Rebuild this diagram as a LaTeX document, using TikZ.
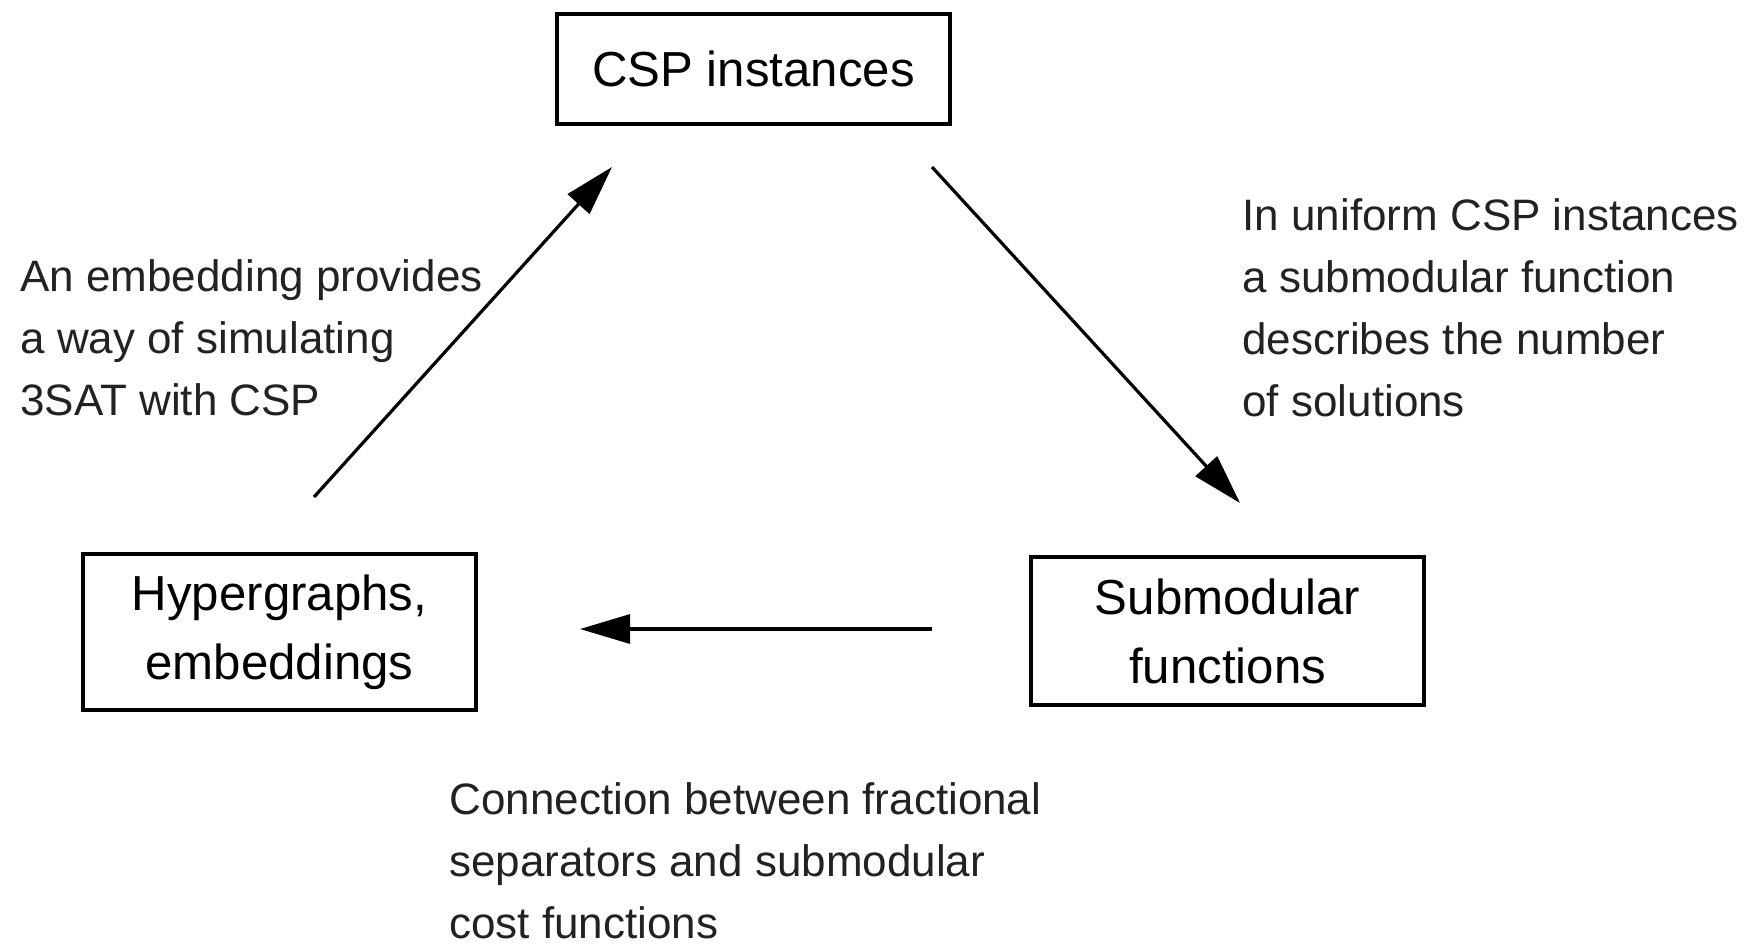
\documentclass[tikz,border=0pt]{standalone}
\usepackage{fontspec}
\setmainfont{Liberation Sans}
\usetikzlibrary{arrows.meta}
\definecolor{labelgray}{HTML}{222222}
\begin{document}
\begin{tikzpicture}[x=0.5pt,y=-0.5pt,
  box/.style={draw, line width=2pt, minimum width=196.5pt, inner sep=0pt, align=center,
    font=\fontsize{24.6}{34.6}\selectfont},
  lbl/.style={anchor=base west, align=left, inner sep=0pt, text=labelgray,
    font=\fontsize{22}{31}\selectfont},
  conn/.style={line width=1.6pt, -{Triangle[length=25pt,width=14.5pt]}}]
\useasboundingbox (0,0) rectangle (1759,944);

\node[box, minimum height=55pt] (csp) at (753.5,69) {CSP instances};
\node[box, minimum height=78pt] (hyp) at (279.5,632) {Hypergraphs,\\embeddings};
\node[box, minimum height=74pt] (sub) at (1227.5,631) {Submodular\\functions};

\coordinate (a1s) at (314,497);
\coordinate (a1e) at (612,167);
\coordinate (a2s) at (932,167);
\coordinate (a2e) at (1240,503);
\coordinate (a3s) at (932,629);
\coordinate (a3e) at (580,629);

\draw[conn] (a1s) -- (a1e);
\draw[conn] (a2s) -- (a2e);
\draw[conn] (a3s) -- (a3e);

\node[lbl] (lab1) at (20,415.5) {An embedding provides\\a way of simulating\\3SAT with CSP};
\node[lbl] (lab2) at (1242,416) {In uniform CSP instances\\a submodular function\\describes the number\\of solutions};
\node[lbl] (lab3) at (449,938) {Connection between fractional\\separators and submodular\\cost functions};
\end{tikzpicture}
\end{document}
